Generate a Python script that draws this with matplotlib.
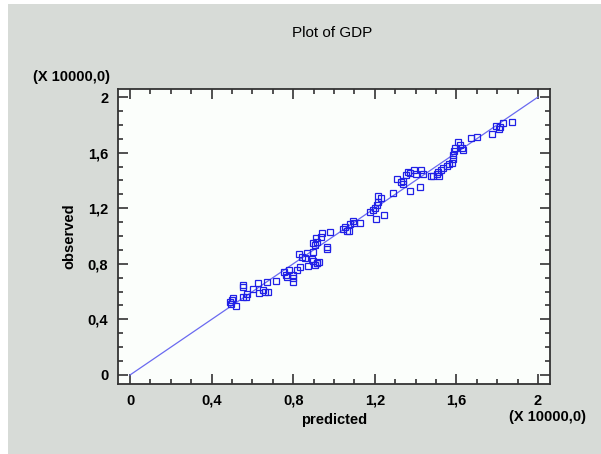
import matplotlib.pyplot as plt
from matplotlib.ticker import MultipleLocator, FuncFormatter
from matplotlib.patches import Rectangle

plt.rcParams['font.family'] = ['Liberation Sans', 'DejaVu Sans']

# predicted vs observed GDP (units of 10000)
predicted = [0.490, 0.499, 0.506, 0.495, 0.520, 0.552, 0.555, 0.552, 0.569, 0.575,
             0.604, 0.629, 0.634, 0.653, 0.662, 0.678, 0.670, 0.716, 0.756, 0.763,
             0.768, 0.800, 0.800, 0.800, 0.781, 0.817, 0.833, 0.874, 0.828, 0.842,
             0.869, 0.899, 0.915, 0.926, 0.858, 0.891, 0.899, 0.918, 0.907, 0.907,
             0.899, 0.915, 0.912, 0.935, 0.941, 0.967, 0.964, 0.982, 1.043, 1.054,
             1.062, 1.075, 1.078, 1.095, 1.098, 1.127, 1.176, 1.190, 1.201, 1.212,
             1.217, 1.217, 1.230, 1.204, 1.245, 1.288, 1.373, 1.307, 1.327, 1.337,
             1.340, 1.353, 1.364, 1.373, 1.392, 1.402, 1.425, 1.435, 1.422, 1.474,
             1.487, 1.503, 1.516, 1.511, 1.523, 1.536, 1.552, 1.565, 1.577, 1.585,
             1.582, 1.588, 1.593, 1.609, 1.618, 1.626, 1.631, 1.670, 1.700, 1.773,
             1.794, 1.810, 1.814, 1.827, 1.871]
observed = [0.527, 0.540, 0.552, 0.511, 0.499, 0.651, 0.635, 0.559, 0.563, 0.581,
            0.619, 0.660, 0.592, 0.612, 0.595, 0.595, 0.667, 0.676, 0.743, 0.719,
            0.703, 0.719, 0.698, 0.671, 0.755, 0.755, 0.775, 0.784, 0.868, 0.851,
            0.876, 0.887, 0.804, 0.815, 0.840, 0.832, 0.822, 0.808, 0.791, 0.935,
            0.947, 0.959, 0.983, 0.995, 1.019, 0.923, 0.904, 1.027, 1.048, 1.067,
            1.038, 1.038, 1.084, 1.110, 1.096, 1.096, 1.175, 1.187, 1.199, 1.223,
            1.247, 1.288, 1.273, 1.122, 1.151, 1.307, 1.326, 1.410, 1.391, 1.374,
            1.398, 1.439, 1.463, 1.455, 1.475, 1.446, 1.475, 1.444, 1.355, 1.432,
            1.432, 1.444, 1.432, 1.463, 1.475, 1.487, 1.506, 1.516, 1.527, 1.552,
            1.583, 1.614, 1.631, 1.678, 1.655, 1.631, 1.619, 1.703, 1.710, 1.734,
            1.794, 1.768, 1.782, 1.815, 1.822]
fit_line = [0.0, 2.0]

grey = '#d7dbd7'
fig = plt.figure(figsize=(6.01, 4.54), dpi=100, facecolor='white')
# grey panel with thin white border at top/left
fig.patches.append(Rectangle((8 / 601, 0), 1, 1 - 4 / 454, transform=fig.transFigure,
                             facecolor=grey, edgecolor='none', zorder=-10))

ax = fig.add_axes([118 / 601, 1 - 384 / 454, 432 / 601, 295 / 454])
ax.set_facecolor('#fbfefb')

ax.plot(fit_line, fit_line, color='#6a6af0', lw=0.9)
ax.plot(predicted, observed, ls='none', marker='s', ms=4.2, mfc='none',
        mec='#2020e6', mew=0.9)

ax.set_xlim(-0.059, 2.059)
ax.set_ylim(-0.065, 2.058)

fmt = FuncFormatter(lambda v, p: ('%g' % round(v, 1)).replace('.', ','))
for axis in (ax.xaxis, ax.yaxis):
    axis.set_major_locator(MultipleLocator(0.4))
    axis.set_minor_locator(MultipleLocator(0.1))
    axis.set_major_formatter(fmt)

ax.tick_params(which='both', direction='in', top=True, right=True, color='#333333',
               width=1.2)
ax.tick_params(which='major', length=7, labelsize=10.5, pad=7)
ax.tick_params(which='minor', length=3.5)
for lab in ax.get_xticklabels() + ax.get_yticklabels():
    lab.set_fontweight('bold')
for s in ax.spines.values():
    s.set_color('#333333')
    s.set_linewidth(1.3)

ax.set_xlabel('predicted', fontsize=10.5, fontweight='bold', labelpad=4)
ax.set_ylabel('observed', fontsize=10.5, fontweight='bold', labelpad=8)

fig.text(332 / 601, 1 - 33 / 454, 'Plot of GDP', fontsize=11, ha='center', va='center')
fig.text(33 / 601, 1 - 77 / 454, '(X 10000,0)', fontsize=10.5, fontweight='bold',
         ha='left', va='center')
fig.text(509 / 601, 1 - 417 / 454, '(X 10000,0)', fontsize=10.5, fontweight='bold',
         ha='left', va='center')

fig.savefig('out.png', dpi=100, facecolor=fig.get_facecolor())
